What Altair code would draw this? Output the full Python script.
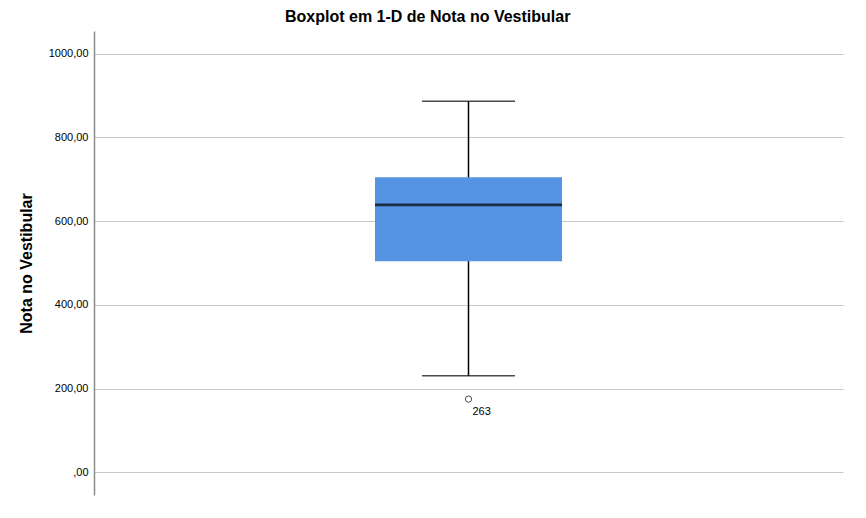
import altair as alt
import pandas as pd

# Data
grupo = ["Nota no Vestibular"]
minimo = [231]
q1 = [504]
mediana = [639]
q3 = [705]
maximo = [886]
outlier_valor = [175]
outlier_rotulo = ["263"]

df = pd.DataFrame({
    "grupo": grupo,
    "minimo": minimo,
    "q1": q1,
    "mediana": mediana,
    "q3": q3,
    "maximo": maximo,
})
df_out = pd.DataFrame({
    "grupo": grupo,
    "valor": outlier_valor,
    "rotulo": outlier_rotulo,
})

x_enc = alt.X("grupo:N", axis=None, scale=alt.Scale(paddingInner=0, paddingOuter=0))
y_scale = alt.Scale(domain=[-54, 1054], nice=False, zero=False)
y_axis = alt.Axis(
    values=[0, 200, 400, 600, 800, 1000],
    labelExpr="datum.value == 0 ? ',00' : replace(format(datum.value, '.2f'), '.', ',')",
    grid=True,
    gridColor="#c8c8c8",
    gridWidth=1,
    domainColor="#8c8c8c",
    domainWidth=1.5,
    ticks=False,
    tickSize=0,
    labelFontSize=11,
    labelFont="Liberation Sans",
    labelColor="#000000",
    labelPadding=6,
    title="Nota no Vestibular",
    titleFont="Liberation Sans",
    titleFontSize=16,
    titleFontWeight="bold",
    titleColor="#000000",
    titlePadding=14,
)

base = alt.Chart(df)

whisker = base.mark_rule(color="black", strokeWidth=1.5).encode(
    x=x_enc,
    y=alt.Y("minimo:Q", scale=y_scale, axis=y_axis),
    y2="maximo:Q",
)

box = base.mark_bar(width=187, color="#5594E3").encode(
    x=x_enc,
    y=alt.Y("q1:Q", scale=y_scale),
    y2="q3:Q",
)

cap_low = base.mark_tick(size=93, thickness=1.5, color="black").encode(
    x=x_enc, y=alt.Y("minimo:Q", scale=y_scale)
)
cap_high = base.mark_tick(size=93, thickness=1.5, color="black").encode(
    x=x_enc, y=alt.Y("maximo:Q", scale=y_scale)
)
median = base.mark_tick(size=187, thickness=2.8, color="black").encode(
    x=x_enc, y=alt.Y("mediana:Q", scale=y_scale)
)

out_pt = alt.Chart(df_out).mark_point(
    shape="circle", filled=False, size=40, color="black", strokeWidth=1
).encode(x=x_enc, y=alt.Y("valor:Q", scale=y_scale))

out_txt = alt.Chart(df_out).mark_text(
    align="left", baseline="middle", dx=4, dy=13, fontSize=11,
    font="Liberation Sans", color="black"
).encode(x=x_enc, y=alt.Y("valor:Q", scale=y_scale), text="rotulo:N")

chart = alt.layer(whisker, box, cap_low, cap_high, median, out_pt, out_txt).properties(
    width=749,
    height=464,
    title=alt.TitleParams(
        "Boxplot em 1-D de Nota no Vestibular",
        anchor="start",
        frame="group",
        dx=191,
        fontSize=16,
        font="Liberation Sans",
        fontWeight="bold",
        color="#000000",
        offset=6,
    ),
    autosize=alt.AutoSizeParams(type="none"),
    padding={"left": 86, "top": 23, "right": 10, "bottom": 10},
).configure(
    background="white",
    view=alt.ViewConfig(strokeWidth=0, stroke="transparent"),
)

chart.save("out.html", embed_options={"renderer": "svg", "actions": False})
